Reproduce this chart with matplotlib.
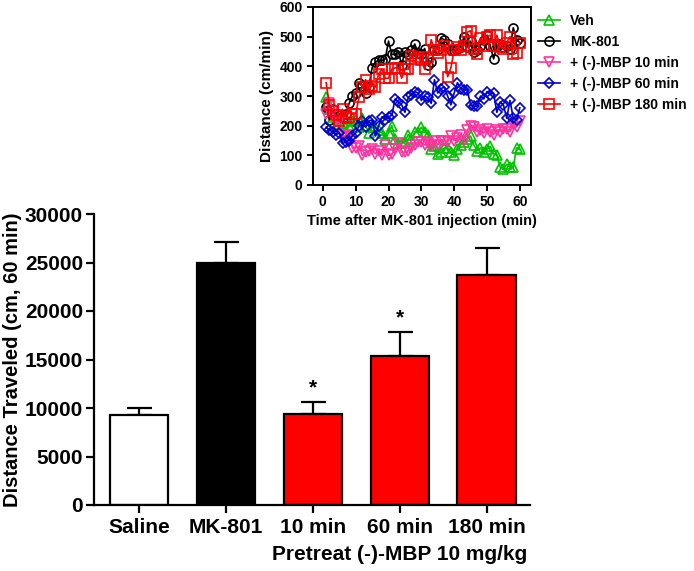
import matplotlib
matplotlib.use("Agg")
import matplotlib.pyplot as plt

plt.rcParams['font.family'] = ['Liberation Sans', 'DejaVu Sans']
plt.rcParams['font.weight'] = 'bold'

# bar chart data
groups = ['Saline', 'MK-801', '10 min', '60 min', '180 min']
totals = [9300, 24950, 9350, 15400, 23750]
sems = [700, 2150, 1300, 2450, 2750]
bar_colors = ['white', 'black', '#ff0000', '#ff0000', '#ff0000']
stars = ['', '', '*', '*', '']

# time course data (cm/min), minutes 1..60
minutes = list(range(1, 61))
veh = [295, 255, 230, 200, 205, 210, 180, 200, 215, 220,
       195, 225, 200, 175, 200, 195, 185, 175, 155, 175,
       200, 155, 140, 140, 145, 170, 155, 180, 180, 195,
       180, 170, 120, 130, 105, 110, 125, 125, 110, 100,
       120, 135, 145, 155, 165, 135, 115, 125, 110, 120,
       130, 105, 100, 60, 55, 70, 60, 60, 125, 120]
mk801 = [263, 220, 255, 240, 225, 225, 240, 275, 300, 310,
         345, 335, 310, 330, 395, 415, 420, 420, 425, 485,
         440, 440, 450, 405, 450, 440, 455, 475, 445, 440,
         460, 405, 415, 455, 460, 495, 490, 475, 455, 455,
         460, 465, 500, 465, 485, 450, 455, 470, 490, 505,
         470, 425, 470, 475, 465, 470, 460, 530, 490, 480]
mbp10 = [240, 275, 250, 215, 210, 170, 160, 170, 125, 125,
         130, 100, 110, 115, 120, 105, 115, 100, 135, 100,
         105, 120, 140, 110, 110, 115, 125, 135, 145, 145,
         135, 140, 130, 150, 135, 150, 150, 145, 165, 150,
         160, 170, 150, 185, 200, 195, 180, 185, 175, 190,
         180, 170, 185, 180, 190, 190, 180, 205, 195, 215]
mbp60 = [195, 185, 180, 170, 175, 140, 145, 150, 165, 175,
         200, 215, 195, 215, 220, 165, 200, 230, 220, 230,
         235, 290, 280, 270, 245, 295, 305, 315, 310, 285,
         300, 295, 275, 355, 310, 325, 330, 300, 270, 310,
         345, 325, 320, 320, 270, 265, 265, 300, 290, 315,
         305, 310, 245, 280, 270, 225, 285, 225, 220, 260]
mbp180 = [345, 270, 250, 235, 215, 255, 230, 225, 240, 240,
          295, 330, 355, 325, 335, 330, 375, 390, 360, 360,
          390, 395, 395, 360, 390, 390, 435, 425, 430, 420,
          390, 430, 490, 455, 445, 455, 470, 365, 395, 455,
          465, 455, 470, 515, 520, 460, 440, 495, 470, 500,
          505, 470, 505, 465, 460, 480, 500, 440, 445, 480]

fig = plt.figure(figsize=(6.94, 5.71), dpi=100)

# ---- main bar chart ----
ax = fig.add_axes([94 / 694, 66 / 571, 436 / 694, 291 / 571])
x = range(len(groups))
ax.bar(x, totals, width=0.67, color=bar_colors, edgecolor='black', linewidth=1.6, zorder=2)
ax.errorbar(x, totals, yerr=[[0] * len(sems), sems], fmt='none', ecolor='black',
            elinewidth=1.6, capsize=9, capthick=1.6, zorder=1)
for xi, t, s, st in zip(x, totals, sems, stars):
    if st:
        ax.text(xi, t + s + 1400, st, ha='center', va='center', fontsize=15, fontweight='bold')
ax.set_xlim(-0.52, 4.5)
ax.set_ylim(0, 30000)
ax.set_yticks(range(0, 30001, 5000))
ax.set_xticks(list(x))
ax.set_xticklabels(groups)
for s in ['top', 'right']:
    ax.spines[s].set_visible(False)
for s in ['left', 'bottom']:
    ax.spines[s].set_linewidth(1.6)
ax.tick_params(width=1.6, length=6, labelsize=15)
ax.tick_params(axis='y', pad=2)
ax.set_ylabel('Distance Traveled (cm, 60 min)', fontsize=14.5, fontweight='bold', labelpad=2)
ax.text(3, -0.17, 'Pretreat (-)-MBP 10 mg/kg', transform=ax.get_xaxis_transform(),
        ha='center', va='center', fontsize=15, fontweight='bold')

# ---- inset time course ----
ins = fig.add_axes([313 / 694, 386 / 571, 218 / 694, 178 / 571])
series = [
    (veh, 'Veh', '#00c400', '^'),
    (mk801, 'MK-801', 'black', 'o'),
    (mbp10, '+ (-)-MBP 10 min', '#ff33a0', 'v'),
    (mbp60, '+ (-)-MBP 60 min', '#0000cc', 'D'),
    (mbp180, '+ (-)-MBP 180 min', '#ff0000', 's'),
]
for vals, lab, col, mk in series:
    ms = 5 if mk == 'D' else 6.5
    ins.plot(minutes, vals, color=col, marker=mk, markerfacecolor='none',
             markeredgecolor=col, markersize=ms, markeredgewidth=1.2, linewidth=1.2, label=lab)
ins.set_xlim(-3, 63.4)
ins.set_ylim(0, 600)
ins.set_xticks(range(0, 61, 10))
ins.set_yticks(range(0, 601, 100))
for s in ins.spines.values():
    s.set_linewidth(1.4)
ins.tick_params(width=1.4, length=4, labelsize=10)
ins.set_xlabel('Time after MK-801 injection (min)', fontsize=10.5, fontweight='bold', labelpad=3)
ins.set_ylabel('Distance (cm/min)', fontsize=11, fontweight='bold')

fig.legend(loc='upper left', bbox_to_anchor=(538 / 694, 1 - 14 / 571), frameon=False,
           fontsize=10, handlelength=1.6, handletextpad=0.7, labelspacing=0.5,
           borderaxespad=0, borderpad=0)

fig.savefig('out.png', dpi=100)
